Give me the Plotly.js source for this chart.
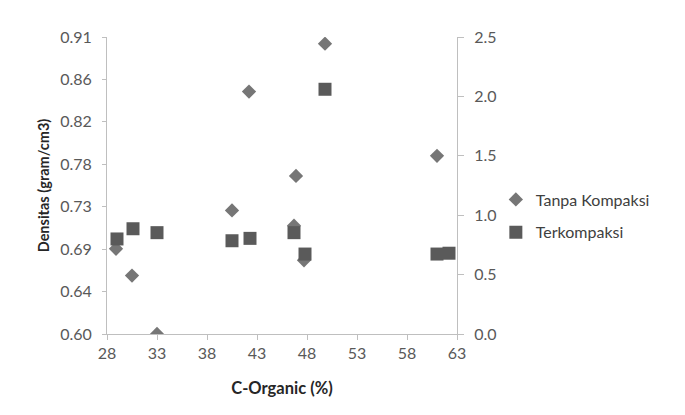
<!DOCTYPE html>
<html>
<head>
<meta charset="utf-8">
<script src="https://cdn.plot.ly/plotly-3.0.1.min.js"></script>
<style>html,body{margin:0;padding:0;background:#fff;}#chart{width:685px;height:415px;}</style>
</head>
<body>
<div id="chart"></div>
<script>
// Tanpa Kompaksi (left axis, g/cm3)
const tanpaX = [28.9, 30.5, 33.0, 40.5, 42.2, 46.9, 46.7, 49.8, 47.7, 61.0];
const tanpaY = [0.689, 0.661, 0.600, 0.729, 0.853, 0.765, 0.713, 0.903, 0.677, 0.786];
// Terkompaksi (right axis)
const terX = [29.0, 30.6, 33.0, 40.5, 42.3, 46.7, 49.8, 47.8, 61.0, 62.2];
const terY = [0.80, 0.886, 0.853, 0.785, 0.805, 0.853, 2.06, 0.673, 0.673, 0.68];

const leftTickText = ["0.60", "0.64", "0.69", "0.73", "0.78", "0.82", "0.86", "0.91"];
const leftMin = 0.60, leftMax = 0.91;
const leftTickVals = leftTickText.map((t, i) => leftMin + i * (leftMax - leftMin) / (leftTickText.length - 1));

const fontFam = "Lato, 'Open Sans', sans-serif";
const tickColor = "#595959";
const lineColor = "#bfbfbf";

const traces = [
  {
    x: tanpaX, y: tanpaY, type: "scatter", mode: "markers", name: "Tanpa Kompaksi",
    marker: {symbol: "diamond", size: 11, color: "#767676"},
    legendgroup: "a", yaxis: "y"
  },
  {
    x: terX, y: terY, type: "scatter", mode: "markers", name: "Terkompaksi",
    marker: {symbol: "square", size: 13, color: "#5a5a5a"},
    legendgroup: "b", yaxis: "y2"
  }
];

const layout = {
  width: 685, height: 415,
  margin: {l: 107, r: 228, t: 37, b: 81},
  paper_bgcolor: "#fff", plot_bgcolor: "#fff",
  font: {family: fontFam, size: 16, color: tickColor},
  showlegend: true,
  legend: {x: 1.111, xanchor: "left", y: 0.51, yanchor: "top", traceorder: "grouped", tracegroupgap: 9,
           font: {family: fontFam, size: 16, color: "#404040"}, bgcolor: "rgba(0,0,0,0)"},
  xaxis: {
    range: [28, 63], dtick: 5, tick0: 28, showgrid: false, zeroline: false,
    showline: true, linecolor: lineColor, linewidth: 1,
    ticks: "outside", ticklen: 5, tickcolor: lineColor, ticklabelstandoff: 0,
    tickfont: {family: fontFam, size: 16, color: tickColor},
    title: {text: "<b>C-Organic (%)</b>", font: {family: fontFam, size: 16.5, color: "#262626"}, standoff: 21}
  },
  yaxis: {
    range: [leftMin, leftMax], tickvals: leftTickVals, ticktext: leftTickText,
    showgrid: false, zeroline: false, showline: true, linecolor: lineColor, linewidth: 1,
    ticks: "outside", ticklen: 4, tickcolor: lineColor, ticklabelstandoff: 7,
    tickfont: {family: fontFam, size: 16, color: tickColor},
    title: {text: "<b>Densitas (gram/cm3)</b>", font: {family: fontFam, size: 14.5, color: "#262626"}, standoff: 7}
  },
  yaxis2: {
    range: [0, 2.5], dtick: 0.5, tick0: 0, tickformat: ".1f", overlaying: "y", side: "right",
    showgrid: false, zeroline: false, showline: true, linecolor: lineColor, linewidth: 1,
    ticks: "outside", ticklen: 6, tickcolor: lineColor, ticklabelstandoff: 7,
    tickfont: {family: fontFam, size: 16, color: tickColor}
  }
};

Plotly.newPlot("chart", traces, layout, {displayModeBar: false, staticPlot: true});
</script>
</body>
</html>
